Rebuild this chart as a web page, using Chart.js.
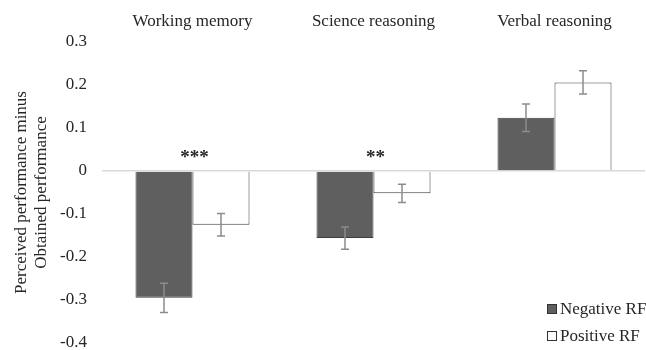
<!DOCTYPE html>
<html>
<head>
<meta charset="utf-8">
<script src="https://cdn.jsdelivr.net/npm/chart.js@4.4.0/dist/chart.umd.min.js"></script>
<style>
  html, body { margin: 0; padding: 0; background: #fff; }
  #wrap { width: 646px; height: 350px; position: relative; }
</style>
</head>
<body>
<div id="wrap"><canvas id="chart"></canvas></div>
<script>
const categories = ["Working memory", "Science reasoning", "Verbal reasoning"];
const negativeValues = [-0.295, -0.156, 0.124];
const positiveValues = [-0.125, -0.052, 0.206];
const negativeErrors = [0.034, 0.026, 0.032];
const positiveErrors = [0.026, 0.021, 0.027];
const significance = ["***", "**", ""];
const yTicks = [0.3, 0.2, 0.1, 0, -0.1, -0.2, -0.3, -0.4];

const serif = "Liberation Serif";
const textColor = "#262626";

// error bars drawn from the bar scales
const errorBars = {
    id: "errorBars",
    afterDatasetsDraw(chart) {
        const ctx = chart.ctx;
        const y = chart.scales.y;
        ctx.save();
        ctx.strokeStyle = "#8c8c8c";
        ctx.lineWidth = 1.5;
        chart.data.datasets.forEach((ds, di) => {
            const meta = chart.getDatasetMeta(di);
            meta.data.forEach((bar, i) => {
                const v = ds.data[i];
                const e = ds.errors[i];
                const top = y.getPixelForValue(v + e);
                const bot = y.getPixelForValue(v - e);
                ctx.beginPath();
                ctx.moveTo(bar.x, top);
                ctx.lineTo(bar.x, bot);
                ctx.moveTo(bar.x - 4, top);
                ctx.lineTo(bar.x + 4, top);
                ctx.moveTo(bar.x - 4, bot);
                ctx.lineTo(bar.x + 4, bot);
                ctx.stroke();
            });
        });
        // significance stars
        ctx.fillStyle = textColor;
        ctx.font = "bold 19px " + serif;
        ctx.textAlign = "center";
        ctx.textBaseline = "middle";
        const x = chart.scales.x;
        significance.forEach((s, i) => {
            if (s) ctx.fillText(s, x.getPixelForValue(i) + 2, y.getPixelForValue(0) - 13);
        });
        ctx.restore();
    }
};

// legend in the lower right corner
const cornerLegend = {
    id: "cornerLegend",
    afterDraw(chart) {
        const ctx = chart.ctx;
        ctx.save();
        ctx.font = "17px " + serif;
        ctx.textBaseline = "middle";
        ctx.textAlign = "left";
        chart.data.datasets.forEach((ds, i) => {
            const cy = 309 + i * 27;
            ctx.fillStyle = ds.backgroundColor;
            ctx.fillRect(547.5, cy - 4.5, 9, 9);
            ctx.strokeStyle = "#333";
            ctx.lineWidth = 1;
            ctx.strokeRect(547.5, cy - 4.5, 9, 9);
            ctx.fillStyle = textColor;
            ctx.fillText(ds.label, 560, cy + 1);
        });
        ctx.restore();
    }
};

new Chart(document.getElementById("chart"), {
    type: "bar",
    data: {
        labels: categories,
        datasets: [
            {
                label: "Negative RF",
                data: negativeValues,
                errors: negativeErrors,
                backgroundColor: "#5f5f5f",
                borderColor: "#3d3d3d",
                borderWidth: 1
            },
            {
                label: "Positive RF",
                data: positiveValues,
                errors: positiveErrors,
                backgroundColor: "#ffffff",
                borderColor: "#3d3d3d",
                borderWidth: 1
            }
        ]
    },
    options: {
        responsive: true,
        maintainAspectRatio: false,
        animation: false,
        layout: { padding: { top: 0, right: 1, bottom: 7, left: 0 } },
        datasets: { bar: { barPercentage: 1, categoryPercentage: 0.63 } },
        plugins: {
            legend: { display: false },
            tooltip: { enabled: false }
        },
        scales: {
            x: {
                position: "top",
                grid: { display: false },
                border: { display: false },
                ticks: {
                    color: textColor,
                    font: { family: serif, size: 17 },
                    padding: 2
                },
                afterFit(scale) { scale.height = 42; }
            },
            y: {
                min: -0.4,
                max: 0.3,
                afterBuildTicks(scale) {
                    scale.ticks = yTicks.map(v => ({ value: v }));
                },
                grid: {
                    drawTicks: false,
                    lineWidth: 1.5,
                    color: c => (c.tick && c.tick.value === 0 ? "#d9d9d9" : "rgba(0,0,0,0)")
                },
                border: { display: false },
                ticks: {
                    color: textColor,
                    font: { family: serif, size: 17 },
                    padding: 15,
                    callback: v => (v === 0 ? "0" : v.toFixed(1))
                },
                title: {
                    display: true,
                    text: ["Perceived performance minus", "Obtained performance"],
                    color: textColor,
                    font: { family: serif, size: 17 },
                    padding: { top: 11, bottom: 0 }
                },
                afterFit(scale) {
                    scale.width = 102;
                    scale.paddingTop = 0;
                    scale.paddingBottom = 0;
                }
            }
        }
    },
    plugins: [errorBars, cornerLegend]
});
</script>
</body>
</html>
